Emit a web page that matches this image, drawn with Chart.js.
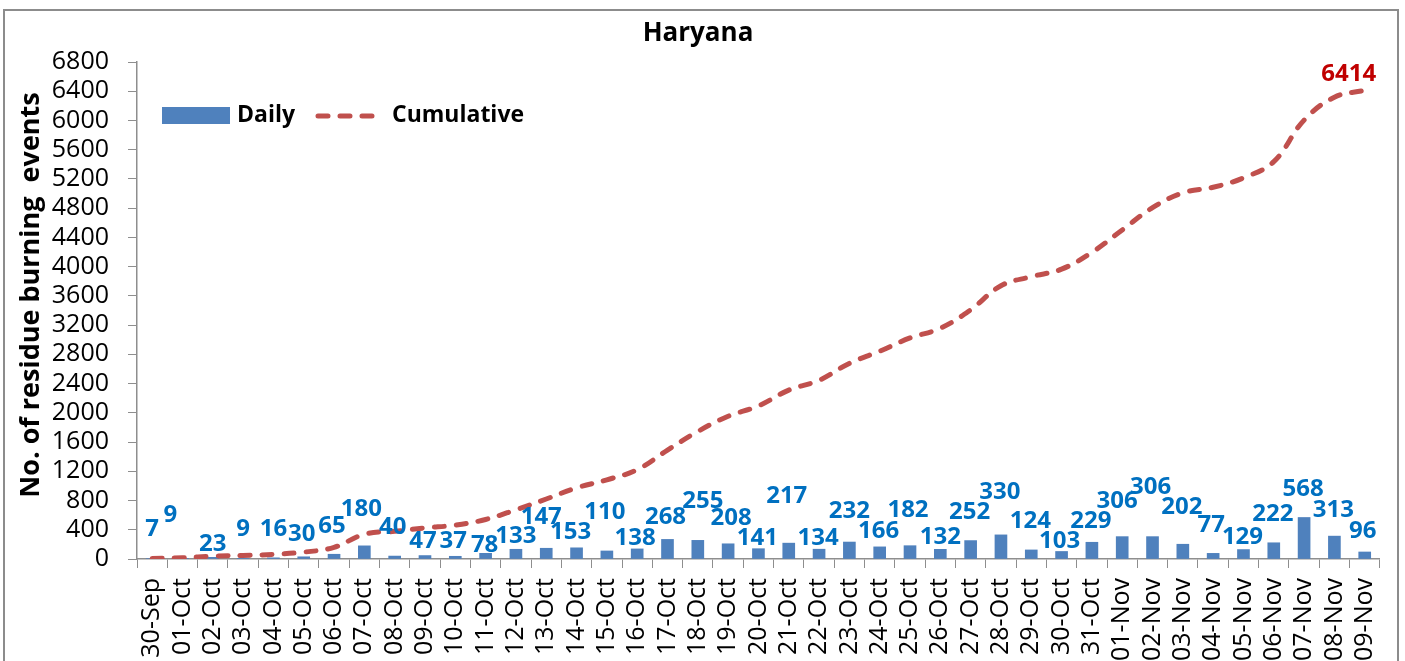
<!DOCTYPE html>
<html>
<head>
<meta charset="utf-8">
<title>Haryana</title>
<script src="https://cdn.jsdelivr.net/npm/chart.js@4/dist/chart.umd.min.js"></script>
<style>
  html, body { margin: 0; padding: 0; background: #fff; }
  #wrap { width: 1405px; height: 661px; overflow: hidden; }
</style>
</head>
<body>
<div id="wrap"><canvas id="myChart" width="1405" height="661"></canvas></div>
<script>
// dates on the x axis
let days = ['30-Sep',
  '01-Oct', '02-Oct', '03-Oct', '04-Oct', '05-Oct', '06-Oct', '07-Oct', '08-Oct', '09-Oct', '10-Oct',
  '11-Oct', '12-Oct', '13-Oct', '14-Oct', '15-Oct', '16-Oct', '17-Oct', '18-Oct', '19-Oct', '20-Oct',
  '21-Oct', '22-Oct', '23-Oct', '24-Oct', '25-Oct', '26-Oct', '27-Oct', '28-Oct', '29-Oct', '30-Oct', '31-Oct',
  '01-Nov', '02-Nov', '03-Nov', '04-Nov', '05-Nov', '06-Nov', '07-Nov', '08-Nov', '09-Nov'];

// daily residue burning events
let daily = [7, 9, 23, 9, 16, 30, 65, 180, 40, 47, 37, 78, 133, 147, 153, 110, 138, 268, 255, 208, 141,
  217, 134, 232, 166, 182, 132, 252, 330, 124, 103, 229, 306, 306, 202, 77, 129, 222, 568, 313, 96];

// cumulative events
let cumulative = [7, 16, 39, 48, 64, 94, 159, 339, 379, 426, 463, 541, 674, 821, 974, 1084, 1222, 1490, 1745,
  1953, 2094, 2311, 2445, 2677, 2843, 3025, 3157, 3409, 3739, 3863, 3966, 4195, 4501, 4807, 5009, 5086, 5215,
  5437, 6005, 6318, 6414];

let yMax = 6800;
let yStep = 400;

// where the blue labels sit (px above the x axis) and small sideways nudges, like in the excel sheet
let labelRise = [30, 44, 15, 30, 30, 25, 33, 50, 32, 18, 18, 14, 23, 42, 27, 47, 21, 42, 58, 41, 21,
  63, 21, 48, 28, 49, 22, 47, 67, 38, 18, 38, 58, 72, 52, 34, 22, 45, 70, 49, 28];
let labelShift = [0, -12, 0, 0, 0, -2, -2, -3, -2, -2, -2, -1, 0, -5, -6, -2, -2, -2, 5, 3, -1,
  -2, -1, 0, -1, -2, 0, -1, -1, -1, -2, -1, -5, -2, -1, -2, -1, -1, -1, -1, -2];

let fontFamily = '"Open Sans", "Liberation Sans", sans-serif';
let blue = '#4F81BD';
let red = '#C0504D';

// frame, title, y title, legend and data labels
const extras = {
  id: 'extras',
  beforeDraw(chart) {
    let c = chart.ctx;
    c.save();
    c.fillStyle = '#fff';
    c.fillRect(0, 0, chart.width, chart.height);
    c.strokeStyle = '#8c8c8c';
    c.lineWidth = 2;
    c.strokeRect(4, 10, 1394, 700);
    c.restore();
  },
  afterDatasetsDraw(chart) {
    let c = chart.ctx;
    let y0 = chart.scales.y.getPixelForValue(0);
    c.save();

    // daily labels
    c.font = 'bold 24px ' + fontFamily;
    c.fillStyle = '#0070C0';
    c.textAlign = 'center';
    c.textBaseline = 'middle';
    chart.getDatasetMeta(0).data.forEach((bar, i) => {
      c.fillText(String(daily[i]), bar.x + labelShift[i], y0 - labelRise[i]);
    });

    // last cumulative value
    let pts = chart.getDatasetMeta(1).data;
    let last = pts[pts.length - 1];
    c.fillStyle = '#C00000';
    c.fillText(String(cumulative[cumulative.length - 1]), last.x - 16, last.y - 16);

    // title
    c.fillStyle = '#000';
    c.font = 'bold 26px ' + fontFamily;
    c.fillText('Haryana', 698, 34);

    // y axis title
    c.save();
    c.translate(31, 295);
    c.rotate(-Math.PI / 2);
    c.font = 'bold 27px ' + fontFamily;
    c.fillText('No. of residue burning  events', 0, 0);
    c.restore();

    // legend
    c.fillStyle = blue;
    c.fillRect(162, 107, 68, 17);
    c.fillStyle = '#000';
    c.font = 'bold 23px ' + fontFamily;
    c.textAlign = 'left';
    c.fillText('Daily', 237, 115);
    c.strokeStyle = red;
    c.lineWidth = 5;
    c.lineCap = 'round';
    c.setLineDash([10, 12]);
    c.beginPath();
    c.moveTo(318, 116);
    c.lineTo(378, 116);
    c.stroke();
    c.setLineDash([]);
    c.fillText('Cumulative', 392, 115);

    c.restore();
  }
};

let ctx = document.getElementById('myChart').getContext('2d');

let myChart = new Chart(ctx, {
  type: 'bar',
  data: {
    labels: days,
    datasets: [{
      label: 'Daily',
      data: daily,
      backgroundColor: blue,
      barThickness: 12,
      order: 1
    }, {
      type: 'line',
      label: 'Cumulative',
      data: cumulative,
      borderColor: red,
      borderWidth: 5,
      borderDash: [10, 12],
      borderCapStyle: 'round',
      pointRadius: 0,
      tension: 0.4,
      fill: false,
      order: 0
    }]
  },
  options: {
    responsive: false,
    animation: false,
    layout: { padding: { top: 62, right: 23, bottom: 0, left: 0 } },
    plugins: {
      legend: { display: false },
      tooltip: { enabled: false },
      title: { display: false }
    },
    scales: {
      x: {
        grid: { display: true, drawOnChartArea: false, drawTicks: true, tickLength: 9, color: '#8e8e8e', offset: true },
        border: { color: '#8e8e8e', width: 1.5 },
        ticks: {
          autoSkip: false, minRotation: 90, maxRotation: 90, padding: 10,
          color: '#000', font: { family: fontFamily, size: 25 }
        },
        afterFit(scale) { scale.height = 102; }
      },
      y: {
        min: 0,
        max: yMax,
        grid: { display: true, drawOnChartArea: false, drawTicks: true, tickLength: 9, color: '#8e8e8e' },
        border: { color: '#8e8e8e', width: 1.5 },
        ticks: {
          stepSize: yStep, autoSkip: false, padding: 19, color: '#000',
          font: { family: fontFamily, size: 25, lineHeight: 1 },
          callback: (v) => String(v)
        },
        afterFit(scale) { scale.width = 137; }
      }
    }
  },
  plugins: [extras]
});
</script>
</body>
</html>
